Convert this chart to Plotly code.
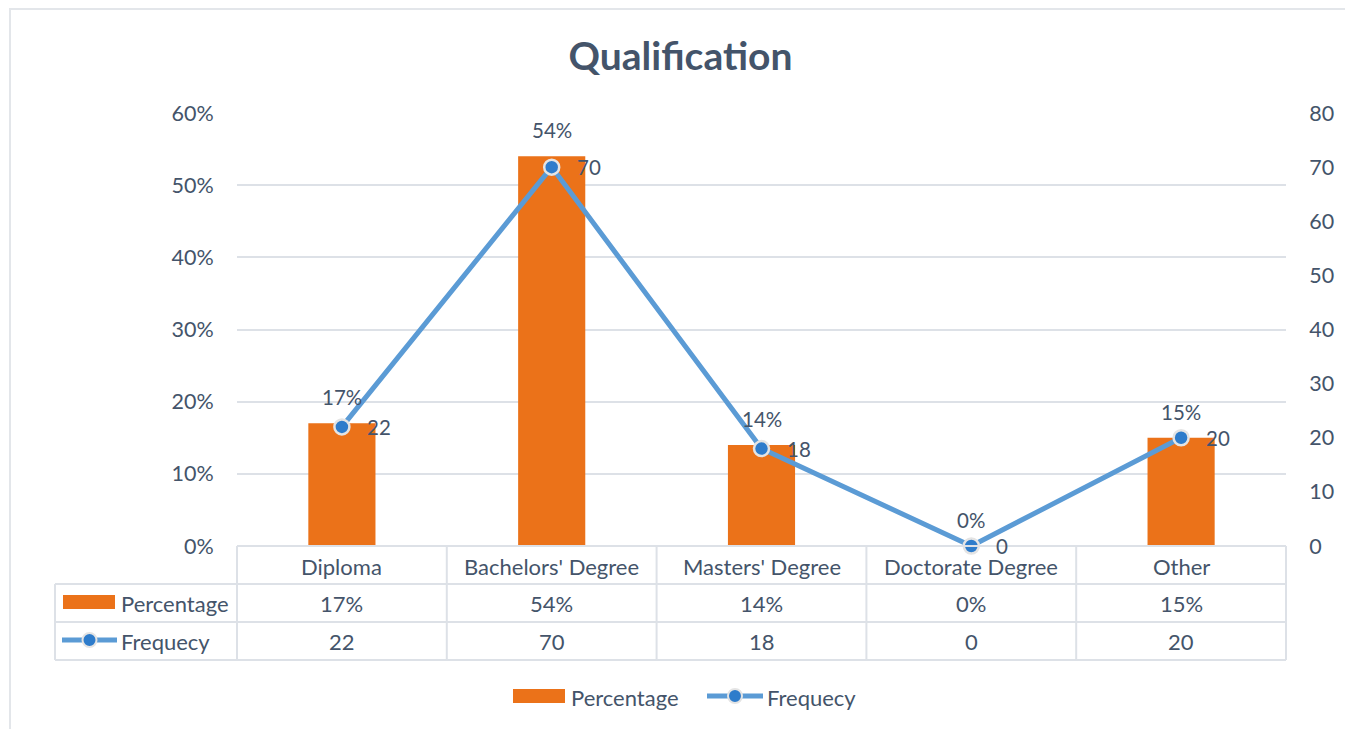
import plotly.graph_objects as go

categories = ["Diploma", "Bachelors' Degree", "Masters' Degree", "Doctorate Degree", "Other"]
percentage = [0.17, 0.54, 0.14, 0.00, 0.15]
frequency = [22, 70, 18, 0, 20]
pct_labels = ["17%", "54%", "14%", "0%", "15%"]
series_names = ["Percentage", "Frequecy"]

OFF = 8  # page body margin of the html page
W, H = 1353 - OFF, 729 - OFF
L, T = 237 - OFF, 113 - OFF
R, B = W - (1286 - OFF), H - (546 - OFF)
PW, PH = W - L - R, H - T - B
TXT = "#44546A"
GRID = "#DDE1E7"
FONT = "Lato"
ORANGE = "#EB7219"
BLUE_LINE = "#5B9BD5"
BLUE_MARK = "#2E7CCB"


def px(x):
    return (x - OFF - L) / PW


def py(y):
    return (H + OFF - B - y) / PH


idx = list(range(len(categories)))

fig = go.Figure()
fig.add_trace(go.Bar(
    x=idx, y=percentage, name=series_names[0],
    marker=dict(color=ORANGE, line=dict(width=0)),
    width=0.32, showlegend=False,
))
fig.add_trace(go.Scatter(
    x=idx, y=frequency, name=series_names[1], yaxis="y2",
    mode="lines+markers",
    line=dict(color=BLUE_LINE, width=5),
    marker=dict(size=15, color=BLUE_MARK, line=dict(color="#E4E4E4", width=2.5)),
    cliponaxis=False, showlegend=False,
))

f_lab = dict(size=20.5, color=TXT, family=FONT)
f_tab = dict(size=22, color=TXT, family=FONT)
annotations = []
# percentage data labels
for i, v in zip(idx, percentage):
    annotations.append(dict(x=i, y=v, xref="x", yref="y", text=pct_labels[i], showarrow=False,
                            xanchor="center", yanchor="middle", yshift=26, font=f_lab))
# frequency data labels
for i, v in zip(idx, frequency):
    annotations.append(dict(x=i, y=v, xref="x", yref="y2", text=str(v), showarrow=False,
                            xanchor="left", yanchor="middle", xshift=23, yshift=0, font=f_lab))
# table texts
row_y = [566, 603, 641]
for i, c in enumerate(categories):
    annotations.append(dict(x=i, y=py(row_y[0]), xref="x", yref="paper", text=c, showarrow=False,
                            xanchor="center", yanchor="middle", font=f_tab))
    annotations.append(dict(x=i, y=py(row_y[1]), xref="x", yref="paper", text=pct_labels[i], showarrow=False,
                            xanchor="center", yanchor="middle", font=f_tab))
    annotations.append(dict(x=i, y=py(row_y[2]), xref="x", yref="paper", text=str(frequency[i]), showarrow=False,
                            xanchor="center", yanchor="middle", font=f_tab))
annotations.append(dict(x=px(119), y=py(row_y[1]), xref="paper", yref="paper", text=series_names[0], showarrow=False,
                        xanchor="left", yanchor="middle", font=f_tab))
annotations.append(dict(x=px(119), y=py(row_y[2]), xref="paper", yref="paper", text=series_names[1], showarrow=False,
                        xanchor="left", yanchor="middle", font=f_tab))
# bottom legend texts
annotations.append(dict(x=px(569), y=py(697), xref="paper", yref="paper", text=series_names[0], showarrow=False,
                        xanchor="left", yanchor="middle", font=f_tab))
annotations.append(dict(x=px(765), y=py(697), xref="paper", yref="paper", text=series_names[1], showarrow=False,
                        xanchor="left", yanchor="middle", font=f_tab))

shapes = []
line_style = dict(color=GRID, width=2)
# outer chart border
shapes.append(dict(type="rect", xref="paper", yref="paper", x0=px(10), x1=px(1350), y0=py(745), y1=py(9),
                   line=dict(color="#E3E6EA", width=2), layer="below"))
# table horizontal lines
shapes.append(dict(type="line", xref="paper", yref="paper", x0=px(237), x1=px(1286), y0=py(546), y1=py(546), line=line_style))
for yy in [584, 622, 660]:
    shapes.append(dict(type="line", xref="paper", yref="paper", x0=px(55), x1=px(1286), y0=py(yy), y1=py(yy), line=line_style))
# table vertical lines
shapes.append(dict(type="line", xref="paper", yref="paper", x0=px(55), x1=px(55), y0=py(584), y1=py(660), line=line_style))
for k in range(len(categories) + 1):
    shapes.append(dict(type="line", xref="paper", yref="paper", x0=k / len(categories), x1=k / len(categories),
                       y0=py(546), y1=py(660), line=line_style))


def bar_key(x0, x1, yc):
    shapes.append(dict(type="rect", xref="paper", yref="paper", x0=px(x0), x1=px(x1), y0=py(yc + 7), y1=py(yc - 7),
                       line=dict(width=0), fillcolor=ORANGE))


def line_key(x0, x1, yc):
    shapes.append(dict(type="line", xref="paper", yref="paper", x0=px(x0), x1=px(x1), y0=py(yc), y1=py(yc),
                       line=dict(color=BLUE_LINE, width=5)))
    xc = (x0 + x1) / 2
    shapes.append(dict(type="circle", xref="paper", yref="paper", x0=px(xc - 7), x1=px(xc + 7), y0=py(yc + 7),
                       y1=py(yc - 7), line=dict(color="#E4E4E4", width=2), fillcolor=BLUE_MARK))


bar_key(63, 115, 602)
line_key(62, 117, 640)
bar_key(513, 565, 696)
line_key(707, 763, 696)

fig.update_layout(
    width=W, height=H,
    margin=dict(l=L, r=R, t=T, b=B),
    paper_bgcolor="white", plot_bgcolor="white",
    font=dict(family=FONT, color=TXT, size=19),
    title=dict(text="<b>Qualification</b>", x=0.5, xanchor="center", y=1 - (56 - OFF) / H, yanchor="middle",
               font=dict(size=39, color=TXT, family=FONT)),
    xaxis=dict(range=[-0.5, len(categories) - 0.5], showticklabels=False, showgrid=False,
               zeroline=False, showline=False, ticks=""),
    yaxis=dict(range=[0, 0.6], dtick=0.1, tickformat=".0%", showgrid=True, gridcolor=GRID, gridwidth=1.5,
               zeroline=False, showline=False, ticks="outside", ticklen=18, tickcolor="rgba(0,0,0,0)",
               tickfont=dict(size=21.5, color=TXT, family=FONT)),
    yaxis2=dict(range=[0, 80], dtick=10, overlaying="y", side="right", showgrid=False, zeroline=False,
                showline=False, ticks="outside", ticklen=18, tickcolor="rgba(0,0,0,0)",
                tickfont=dict(size=21.5, color=TXT, family=FONT)),
    showlegend=False,
    annotations=annotations,
    shapes=shapes,
)

fig.write_html("out.html")
